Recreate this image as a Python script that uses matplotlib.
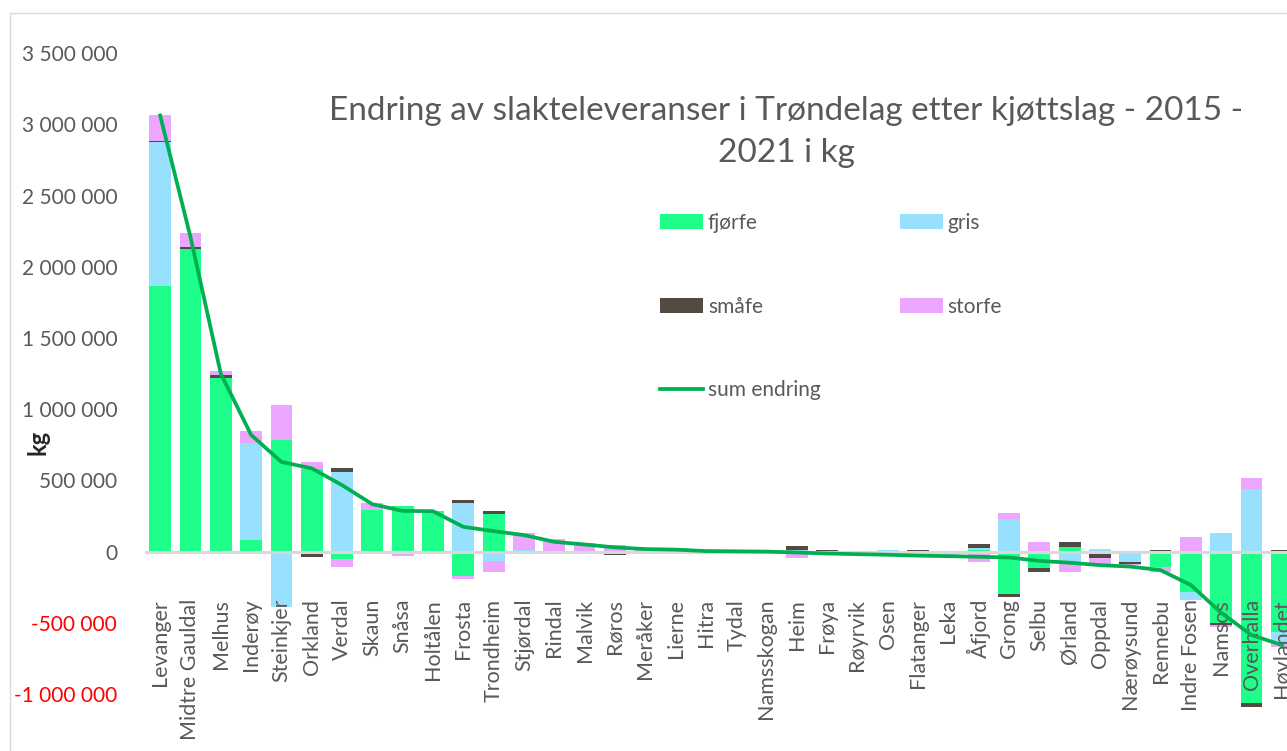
import numpy as np
import matplotlib
matplotlib.use("Agg")
import matplotlib.pyplot as plt
from matplotlib.patches import Patch, Rectangle
from matplotlib.ticker import FixedLocator, FuncFormatter

plt.rcParams["font.family"] = ["Lato", "DejaVu Sans"]

kommuner = [
    "Levanger", "Midtre Gauldal", "Melhus", "Inderøy", "Steinkjer", "Orkland",
    "Verdal", "Skaun", "Snåsa", "Holtålen", "Frosta", "Trondheim", "Stjørdal",
    "Rindal", "Malvik", "Røros", "Meråker", "Lierne", "Hitra", "Tydal",
    "Namsskogan", "Heim", "Frøya", "Røyrvik", "Osen", "Flatanger", "Leka",
    "Åfjord", "Grong", "Selbu", "Ørland", "Oppdal", "Nærøysund", "Rennebu",
    "Indre Fosen", "Namsos", "Overhalla", "Høylandet",
]

# Endring 2015-2021 per kjøttslag, kg
fjorfe = [
    1865000, 2123000, 1222000, 81000, 782000, 579000, -55000, 289000, 321000,
    282000, -172000, 261000, 0, 0, 0, 0, 5000, 0, 8000, 0, 0, 0, -22000,
    -10000, -20000, -15000, -15000, 10000, -300000, -114000, 34000, 0, 0,
    -107000, -282000, -504000, -1065000, -563000,
]
gris = [
    1011000, -15000, -10000, 685000, -392000, 0, 556000, 0, 0, 0, 342000,
    -65000, 10000, -20000, 0, 0, 0, 0, 0, 0, 0, 8000, 0, 0, 10000, 0, 0,
    18000, 226000, 0, -90000, 15000, -72000, 0, -58000, 128000, 437000, -70000,
]
smafe = [
    8000, 20000, 16000, 0, 0, -40000, 28000, -15000, 0, 0, 24000, 25000,
    -12000, 0, -10000, -25000, 0, -12000, 0, -13000, 0, 30000, 10000, 0, 0,
    10000, 0, 25000, -21000, -28000, 35000, -44000, -12000, 10000, 0, -12000,
    -24000, 10000,
]
storfe = [
    180000, 94000, 29000, 80000, 251000, 47000, -52000, 49000, -30000, 6000,
    -23000, -77000, 118000, 88000, 62000, 45000, 12000, 25000, -12000, 13000,
    3000, -45000, 0, -8000, -10000, -20000, -12000, -72000, 42000, 69000,
    -52000, -40000, -7000, -35000, 100000, -15000, 77000, -35000,
]
sum_endring = [
    3063000, 2210000, 1250000, 820000, 630000, 585000, 467000, 333000, 286000,
    284000, 174000, 144000, 116000, 69000, 50000, 30000, 18000, 14000, 4000,
    2000, 0, -6000, -13000, -18000, -22000, -28000, -32000, -36000, -41000,
    -65000, -78000, -95000, -105000, -130000, -235000, -430000, -586000,
    -656000,
]

serier = [
    ("fjørfe", fjorfe, "#1DFF8A"),
    ("gris", gris, "#97E1FF"),
    ("småfe", smafe, "#534A42"),
    ("storfe", storfe, "#EDA6FF"),
]

W, H = 1287, 751
fig = plt.figure(figsize=(W / 100, H / 100), dpi=100)
fig.patch.set_facecolor("white")

# chart frame
fig.add_artist(Rectangle((10 / W, -0.05), 1.2, 1.05 - 13 / H,
                         transform=fig.transFigure, fill=False,
                         ec="#D9D9D9", lw=1.0))

ax = fig.add_axes([145 / W, (H - 694) / H, 1152 / W, (694 - 53.3) / H])
x = np.arange(len(kommuner))

pos_base = np.zeros(len(kommuner))
neg_base = np.zeros(len(kommuner))
handles = {}
for navn, verdier, farge in serier:
    v = np.asarray(verdier, dtype=float)
    bunn = np.where(v >= 0, pos_base, neg_base)
    bars = ax.bar(x, v, bottom=bunn, width=0.72, color=farge, zorder=1)
    for b in bars:
        b.set_clip_on(False)
    pos_base += np.where(v > 0, v, 0)
    neg_base += np.where(v < 0, v, 0)
    handles[navn] = Patch(facecolor=farge, edgecolor="none")

ax.axhline(0, color="#D9D9D9", lw=2.2, zorder=1.2)
(linje,) = ax.plot(x, sum_endring, color="#00B050", lw=2.7, zorder=3,
                   solid_joinstyle="round")

ax.set_xlim(-0.5, len(kommuner) - 0.5)
ax.set_ylim(-1_000_000, 3_500_000)

for s in ax.spines.values():
    s.set_visible(False)
ax.spines["bottom"].set_position(("data", 0))

ax.set_xticks(x)
ax.set_xticklabels(kommuner, rotation=90, fontsize=15.5, color="#595959")
ax.tick_params(axis="x", length=0, pad=34)

yt = np.arange(-1_000_000, 3_500_001, 500_000)
ax.yaxis.set_major_locator(FixedLocator(yt))
ax.yaxis.set_major_formatter(
    FuncFormatter(lambda v, p: f"{int(v):,}".replace(",", " ")))
ax.tick_params(axis="y", length=0, pad=20, labelsize=15, labelcolor="#595959")
for lbl, v in zip(ax.get_yticklabels(), yt):
    if v < 0:
        lbl.set_color("#FF0000")

ax.set_ylabel("kg", fontsize=17, fontweight="bold", color="#262626")
ax.yaxis.set_label_coords(-0.083, 0.393)

fig.text(786 / W, 1 - 131.5 / H,
         "Endring av slakteleveranser i Trøndelag etter kjøttslag - 2015 -\n2021 i kg",
         ha="center", va="center", fontsize=24, color="#595959",
         linespacing=1.5)

leg_handles = [handles["fjørfe"], handles["småfe"], linje,
               handles["gris"], handles["storfe"]]
leg_labels = ["fjørfe", "småfe", "sum endring", "gris", "storfe"]
ax.legend(leg_handles, leg_labels, ncol=2, loc="upper left",
          bbox_to_anchor=(660 / W, 1 - 213 / H), bbox_transform=fig.transFigure,
          frameon=False, fontsize=15, labelcolor="#595959",
          handlelength=2.05, handleheight=0.7, handletextpad=0.25,
          labelspacing=3.05, columnspacing=3.8, borderpad=0, borderaxespad=0)

fig.savefig("out.png", dpi=100)
